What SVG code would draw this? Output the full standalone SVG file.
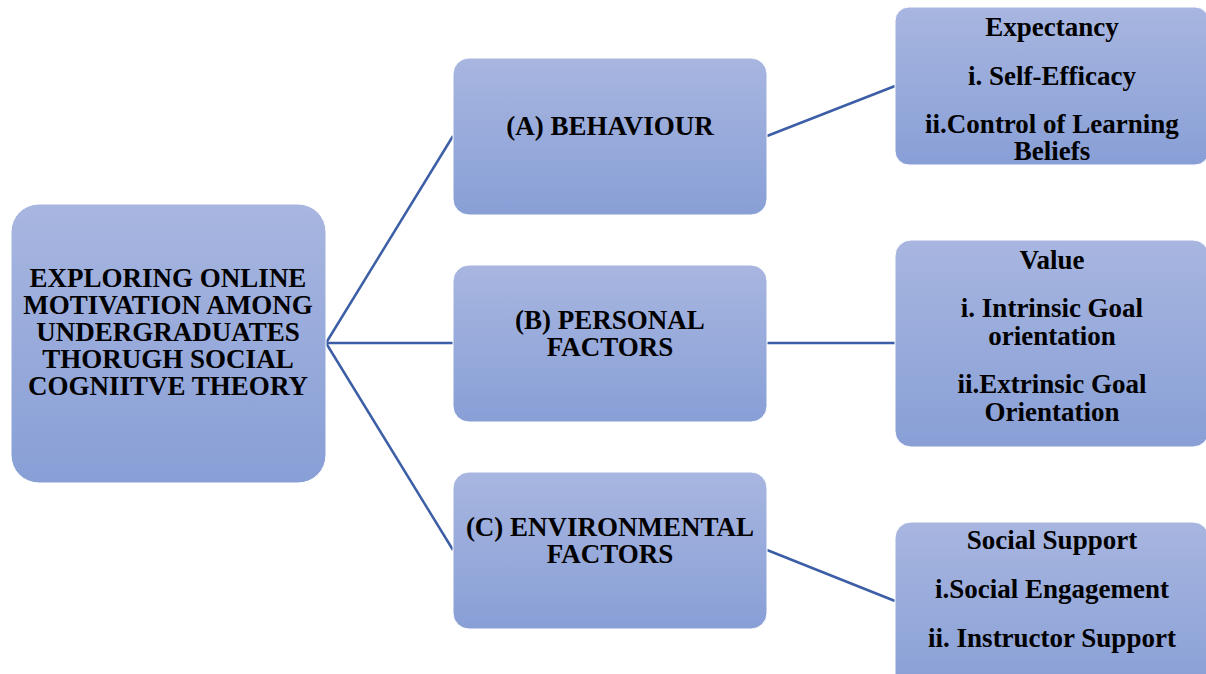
<svg xmlns="http://www.w3.org/2000/svg" width="1206" height="674" viewBox="0 0 1206 674">
<defs>
<linearGradient id="g" x1="0" y1="0" x2="0" y2="1">
<stop offset="0" stop-color="#A8B6E0"/>
<stop offset="1" stop-color="#889FD6"/>
</linearGradient>
<style>
.box{fill:url(#g);stroke:#ffffff;stroke-width:1}
.t{font-family:"Liberation Serif","Times New Roman",serif;font-weight:bold;font-size:27px;fill:#000;text-anchor:middle}
.c{stroke:#3B5EA6;stroke-width:2.5;fill:none}
</style>
</defs>
<rect width="1206" height="674" fill="#ffffff"/>
<g id="connectors">
<line class="c" x1="326" y1="343" x2="453" y2="136"/>
<line class="c" x1="326" y1="343" x2="453" y2="343"/>
<line class="c" x1="326" y1="343" x2="453" y2="550"/>
<line class="c" x1="767" y1="136" x2="895" y2="86"/>
<line class="c" x1="767" y1="343" x2="895" y2="343"/>
<line class="c" x1="767" y1="550" x2="895" y2="601"/>
</g>
<g id="root">
<rect class="box" x="11" y="204" width="315" height="279" rx="28"/>
<text class="t" x="168" y="287">EXPLORING ONLINE</text>
<text class="t" x="168" y="314">MOTIVATION AMONG</text>
<text class="t" x="168" y="341">UNDERGRADUATES</text>
<text class="t" x="168" y="368">THORUGH SOCIAL</text>
<text class="t" x="168" y="395">COGNIITVE THEORY</text>
</g>
<g id="behaviour">
<rect class="box" x="453" y="58" width="314" height="157" rx="16"/>
<text class="t" x="610" y="135">(A) BEHAVIOUR</text>
</g>
<g id="personal">
<rect class="box" x="453" y="265" width="314" height="157" rx="16"/>
<text class="t" x="610" y="329">(B) PERSONAL</text>
<text class="t" x="610" y="356">FACTORS</text>
</g>
<g id="environmental">
<rect class="box" x="453" y="472" width="314" height="157" rx="16"/>
<text class="t" x="610" y="536">(C) ENVIRONMENTAL</text>
<text class="t" x="610" y="563">FACTORS</text>
</g>
<g id="expectancy">
<rect class="box" x="895" y="7" width="314" height="158" rx="14"/>
<text class="t" x="1052" y="36">Expectancy</text>
<text class="t" x="1052" y="85">i. Self-Efficacy</text>
<text class="t" x="1052" y="133">ii.Control of Learning</text>
<text class="t" x="1052" y="160">Beliefs</text>
</g>
<g id="value">
<rect class="box" x="895" y="240" width="314" height="207" rx="16"/>
<text class="t" x="1052" y="269">Value</text>
<text class="t" x="1052" y="317">i. Intrinsic Goal</text>
<text class="t" x="1052" y="345">orientation</text>
<text class="t" x="1052" y="393">ii.Extrinsic Goal</text>
<text class="t" x="1052" y="421">Orientation</text>
</g>
<g id="social">
<rect class="box" x="895" y="522" width="314" height="170" rx="16"/>
<text class="t" x="1052" y="549">Social Support</text>
<text class="t" x="1052" y="598">i.Social Engagement</text>
<text class="t" x="1052" y="647">ii. Instructor Support</text>
</g>
</svg>
